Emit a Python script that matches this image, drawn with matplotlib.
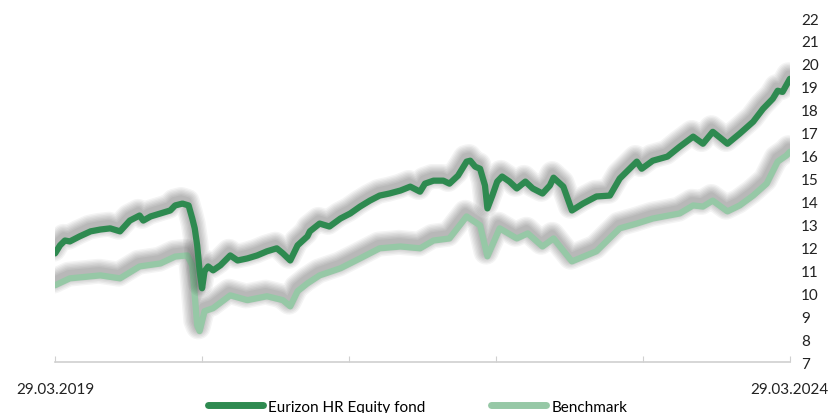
import matplotlib
matplotlib.use("Agg")
import matplotlib.pyplot as plt
import matplotlib.patheffects as pe

# months since 29.03.2019
fund_months = [0.0, 0.4, 0.8, 1.2, 2.0, 2.9, 3.7, 4.5, 5.3, 6.1, 6.9, 7.2, 7.8, 8.6, 9.4, 9.8,
               10.4, 10.9, 11.2, 11.4, 11.6, 11.8, 12.0, 12.2, 12.5, 12.9, 13.5, 14.3, 14.9,
               15.7, 16.5, 17.3, 18.1, 18.6, 19.2, 19.8, 20.6, 20.8, 21.6, 22.4, 23.3, 24.1,
               24.9, 25.7, 26.5, 27.3, 28.2, 29.0, 29.8, 30.2, 30.9, 31.7, 32.2, 32.9, 33.6,
               33.9, 34.3, 34.7, 35.1, 35.3, 35.7, 36.1, 36.5, 37.1, 37.7, 38.4, 39.0, 39.8,
               40.4, 40.7, 41.5, 42.2, 43.1, 44.2, 45.3, 46.1, 47.5, 47.9, 48.8, 50.0, 51.0,
               52.1, 52.9, 53.7, 54.4, 54.9, 55.9, 57.0, 57.8, 58.6, 59.0, 59.4, 60.0]
fund_values = [11.74, 12.09, 12.30, 12.26, 12.48, 12.70, 12.78, 12.83, 12.70, 13.17, 13.39, 13.17,
               13.35, 13.48, 13.61, 13.83, 13.91, 13.83, 13.26, 12.83, 12.09, 10.96, 10.22, 10.96,
               11.17, 11.00, 11.22, 11.65, 11.43, 11.52, 11.65, 11.83, 11.96, 11.74, 11.43, 12.09,
               12.48, 12.70, 13.04, 12.91, 13.26, 13.48, 13.78, 14.04, 14.26, 14.35, 14.48, 14.65,
               14.43, 14.78, 14.91, 14.91, 14.78, 15.13, 15.74, 15.78, 15.52, 15.43, 14.70, 13.70,
               14.26, 14.87, 15.09, 14.87, 14.57, 14.87, 14.57, 14.35, 14.70, 15.04, 14.65, 13.61,
               13.91, 14.22, 14.26, 15.00, 15.74, 15.43, 15.78, 15.96, 16.39, 16.83, 16.52, 17.04,
               16.74, 16.52, 16.96, 17.48, 18.04, 18.48, 18.83, 18.78, 19.35]

bench_months = [0.0, 1.2, 3.7, 5.3, 6.9, 8.6, 9.8, 10.8, 11.2, 11.6, 11.8, 12.2, 12.9, 14.3, 15.7,
                17.3, 18.6, 19.2, 19.8, 20.6, 21.6, 23.3, 24.9, 26.5, 28.2, 29.8, 30.9, 32.2,
                33.6, 34.7, 35.3, 36.3, 37.7, 38.6, 39.8, 40.7, 42.2, 44.2, 46.1, 47.5, 48.8,
                51.0, 52.1, 52.9, 53.7, 54.9, 55.9, 57.0, 58.1, 59.0, 59.7, 60.0]
bench_values = [10.35, 10.65, 10.78, 10.65, 11.17, 11.30, 11.60, 11.65, 11.22, 8.61, 8.35, 9.22,
                9.35, 9.91, 9.70, 9.87, 9.70, 9.43, 10.09, 10.43, 10.78, 11.09, 11.52, 11.96,
                12.04, 11.96, 12.30, 12.39, 13.35, 12.96, 11.61, 12.83, 12.39, 12.61, 12.04,
                12.39, 11.39, 11.83, 12.83, 13.04, 13.26, 13.48, 13.83, 13.78, 14.04, 13.57,
                13.83, 14.26, 14.78, 15.74, 16.00, 16.17]

x_ticks = [0, 12, 24, 36, 48, 60]
x_labels = ["29.03.2019", "", "", "", "", "29.03.2024"]
y_ticks = list(range(7, 23))

fund_color = "#2e8a50"
bench_color = "#96c8a6"

plt.rcParams['font.family'] = ['Lato', 'DejaVu Sans']

fig = plt.figure(figsize=(8.35, 4.14), dpi=100)
ax = fig.add_axes([0.066, 0.123, 0.88, 0.831])

# soft grey shadow, shifted up and a bit left like the original
shadow = [pe.SimpleLineShadow(offset=(-1, 3), shadow_color='black', alpha=0.045, linewidth=w)
          for w in (18, 16, 14, 12, 10, 8, 6)] + [pe.Normal()]

ax.plot(bench_months, bench_values, color=bench_color, lw=4.5, solid_capstyle='round',
        solid_joinstyle='round', path_effects=shadow, label="Benchmark", zorder=2)
ax.plot(fund_months, fund_values, color=fund_color, lw=4.5, solid_capstyle='round',
        solid_joinstyle='round', path_effects=shadow, label="Eurizon HR Equity fond", zorder=3)

ax.set_xlim(0, 60)
ax.set_ylim(7, 22)
ax.set_yticks(y_ticks)
ax.yaxis.tick_right()
ax.tick_params(axis='y', length=0, pad=8, labelsize=11, labelcolor='#222222')
ax.set_xticks(x_ticks)
ax.set_xticklabels(x_labels)
ax.tick_params(axis='x', direction='in', length=4, color='#d0d0d0', pad=14,
               labelsize=11, labelcolor='#222222')

for side in ['top', 'left', 'right']:
    ax.spines[side].set_visible(False)
ax.spines['bottom'].set_color('#d0d0d0')
ax.spines['bottom'].set_linewidth(1.2)

handles, labels = ax.get_legend_handles_labels()
leg = fig.legend(handles[::-1], labels[::-1], loc='lower center', bbox_to_anchor=(0.5, -0.035),
                 ncol=2, frameon=False, fontsize=11, handlelength=3.6, handletextpad=0.35,
                 columnspacing=4.3)
for line in leg.get_lines():
    line.set_linewidth(5)
    line.set_path_effects([])

fig.savefig("out.png", dpi=100)
